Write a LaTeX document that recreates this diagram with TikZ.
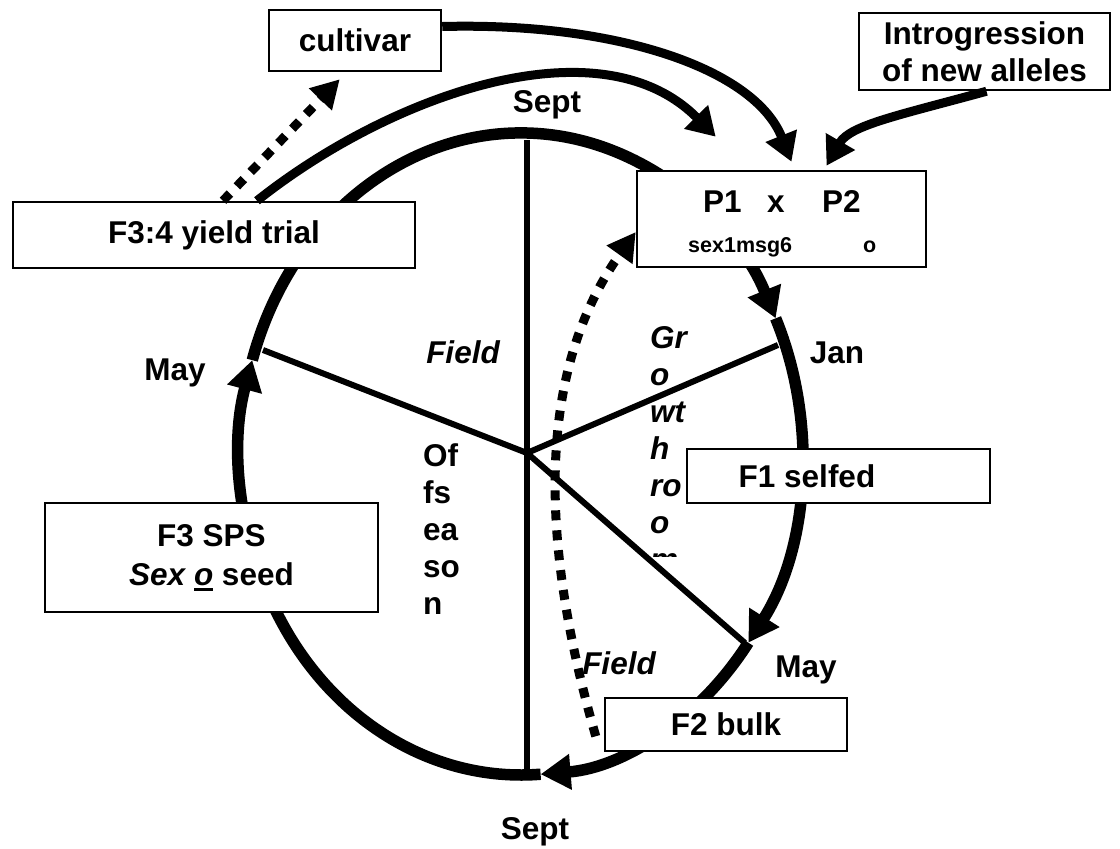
\documentclass[tikz,border=0pt]{standalone}
\usepackage{fontspec}
\setmainfont{Liberation Sans}
\usetikzlibrary{arrows.meta,calc,backgrounds}
\newcommand{\ulo}{\setbox0\hbox{\itshape o}\rlap{\rule[-5pt]{\wd0}{2.5pt}}\box0}
\begin{document}
\begin{tikzpicture}[x=1pt,y=-1pt,
  box/.style={draw, line width=2.5pt, fill=white, inner sep=0pt, align=center,
    font=\fontsize{31.5}{37}\selectfont\bfseries},
  lbl/.style={font=\fontsize{31.5}{37}\selectfont\bfseries, inner sep=0pt},
  ilbl/.style={font=\fontsize{31.5}{37}\selectfont\bfseries\itshape, inner sep=0pt},
  slbl/.style={font=\fontsize{21.5}{25}\selectfont\bfseries, inner sep=0pt},
  ring/.style={line width=11.5pt},
  ringtip/.style={-{Triangle[length=30pt,width=34pt]}},
  spoke/.style={line width=6pt},
  conn/.style={line width=9pt, -{Triangle[length=28pt,width=32pt]}},
  dots/.style={line width=9pt, dash pattern=on 10pt off 10pt, -{Triangle[length=28pt,width=30pt]}}
]
\useasboundingbox (0,0) rectangle (1120,849);
\begin{scope}[on background layer]
\fill[white] (0,0) rectangle (1120,849);
\end{scope}

% ring
\coordinate (c) at (521,454);
\draw[ring, ringtip] ($(c)+(197:281 and 321)$) arc[start angle=197, end angle=335, x radius=281, y radius=321];
\draw[ring, ringtip] ($(c)+(335:281 and 321)$) arc[start angle=335, end angle=396, x radius=281, y radius=321];
\draw[ring, ringtip] ($(c)+(36:281 and 321)$) arc[start angle=36, end angle=86, x radius=281, y radius=321];
\draw[ring, ringtip] ($(c)+(86:281 and 321)$) arc[start angle=86, end angle=197, x radius=281, y radius=321];

% spokes
\coordinate (hub) at (527,453);
\coordinate (sTop) at (527,140);
\coordinate (sBot) at (527,770);
\coordinate (sLeft) at (263,350);
\coordinate (sRight) at (778,345);
\coordinate (sLow) at (745,643);
\draw[spoke] (sTop) -- (sBot);
\draw[spoke] (hub) -- (sLeft);
\draw[spoke] (hub) -- (sRight);
\draw[spoke] (hub) -- (sLow);

% boxes
\node[box, minimum width=172pt, minimum height=61pt] (cult) at (355,40.5) {cultivar};
\node[box, minimum width=251pt, minimum height=77pt] (intro) at (984.5,51.5) {Introgression\\of new alleles};
\node[box, minimum width=289pt, minimum height=96pt] (p12) at (781.5,219) {};
\node[box, minimum width=402pt, minimum height=66pt] (f34) at (214,235) {F3:4 yield trial};
\node[box, minimum width=333pt, minimum height=109pt, font=\fontsize{31.5}{39}\selectfont\bfseries] (sps) at (211.5,557.5) {F3 SPS\\\textit{Sex \ulo} seed};
\node[box, minimum width=303pt, minimum height=54pt] (f1) at (838.5,476) {};
\node[box, minimum width=242pt, minimum height=53pt] (f2) at (726,724.5) {F2 bulk};

% dotted arc
\draw[dots] ($(f2.south west)+(-8,-16)$) .. controls (545,560) and (530,380) .. ($(p12.west)+(0,13)$);

% texts inside P1 x P2 and F1 boxes
\node[lbl, anchor=base west] (tP1) at (703,212) {P1};
\node[lbl, anchor=base west] (tx) at (767,212) {x};
\node[lbl, anchor=base west] (tP2) at (822,212) {P2};
\node[slbl, anchor=base west] (tsex) at (688,252) {sex1msg6};
\node[slbl, anchor=base west] (to) at (863,252) {o};
\node[lbl] (tf1) at (807,476) {F1 selfed};

% month labels
\node[lbl] (septT) at (547,105) {Sept};
\node[lbl] (septB) at (535,832) {Sept};
\node[lbl] (jan) at (837,353) {Jan};
\node[lbl] (mayR) at (806,670) {May};
\node[lbl] (mayL) at (175,373) {May};
\node[ilbl] (fieldT) at (463,352) {Field};
\node[ilbl] (fieldB) at (619,663) {Field};

% stacked texts
\foreach \t/\y in {Of/466, fs/503, ea/540, so/577, n/614}
  \node[lbl, anchor=base west] (off\y) at (423,\y) {\t};
\begin{scope}
\clip (640,300) rectangle (730,556);
\foreach \t/\y in {Gr/348, o/385, wt/422, h/459, ro/496, o/533, m/570}
  \node[ilbl, anchor=base west] (gr\y) at (650,\y) {\t};
\end{scope}

% connectors
\draw[conn] ($(f34.north)+(43,0)$) .. controls (390,95) and (600,20) .. ($(p12.north west)+(80,-33)$);
\draw[conn] ($(cult.east)+(0,-14)$) .. controls (620,22) and (755,70) .. ($(p12.north)+(10,-8)$);
\draw[conn] ($(intro.south)+(2,0)$) .. controls (900,115) and (850,125) .. ($(p12.north)+(45,-4)$);
\draw[dots] ($(f34.north)+(9,0)$) -- ($(cult.south west)+(72,7)$);
\end{tikzpicture}
\end{document}
